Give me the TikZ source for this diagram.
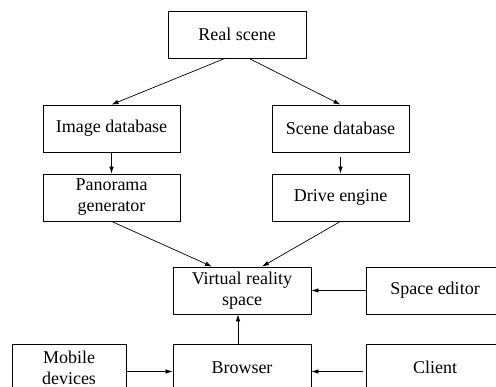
\documentclass[tikz,border=0pt]{standalone}
\usepackage{fontspec}
\setmainfont{Liberation Serif}
\usetikzlibrary{arrows.meta}
\tikzset{
  blk/.style={draw, line width=0.8pt, minimum width=138pt, minimum height=47pt,
    inner sep=0pt, align=center, font=\fontsize{18}{21}\selectfont},
  arr/.style={line width=0.7pt, -{Latex[length=7pt,width=4.5pt]}}
}
\begin{document}
\begin{tikzpicture}[x=1pt,y=-1pt]
  \useasboundingbox (0,0) rectangle (496,387);
  \clip (0,0) rectangle (496,387);
  % boxes
  \node[blk] (real) at (237,34.5)   {Real scene};
  \node[blk, minimum width=137pt] (img) at (111.5,128.5) {Image database};
  \node[blk, minimum width=137pt] (scn) at (340.5,128.5) {Scene database};
  \node[blk, minimum width=137pt] (pan) at (111.5,197.5) {Panorama\\generator};
  \node[blk, minimum width=137pt] (drv) at (340.5,197.5) {Drive engine};
  \node[blk] (vr)  at (242,290.5)   {Virtual reality\\space};
  \node[blk] (spc) at (435,290.5)   {Space editor};
  \node[blk, minimum width=114pt] (mob) at (69,367.5) {Mobile\\devices};
  \node[blk] (brw) at (242,367.5)   {Browser};
  \node[blk] (cli) at (435,367.5)   {Client};
  % connectors
  \draw[arr] ([xshift=-12pt]real.south) -- (img.north);
  \draw[arr] ([xshift=12pt]real.south) -- (scn.north);
  \draw[arr] (img.south) -- (pan.north);
  \draw[arr] ([yshift=-5pt]scn.south) -- (drv.north);
  \draw[arr] (pan.south) -- ([xshift=-30pt]vr.north);
  \draw[arr] (drv.south) -- ([xshift=20pt]vr.north);
  \draw[arr] (spc.west) -- (vr.east);
  \draw[arr] ([xshift=-4pt]brw.north) -- ([xshift=-4pt]vr.south);
  \draw[arr] ([yshift=-4pt]mob.east) -- ([yshift=-4pt]brw.west);
  \draw[arr] ([xshift=-3pt,yshift=-4pt]cli.west) -- ([yshift=-4pt]brw.east);
\end{tikzpicture}
\end{document}
